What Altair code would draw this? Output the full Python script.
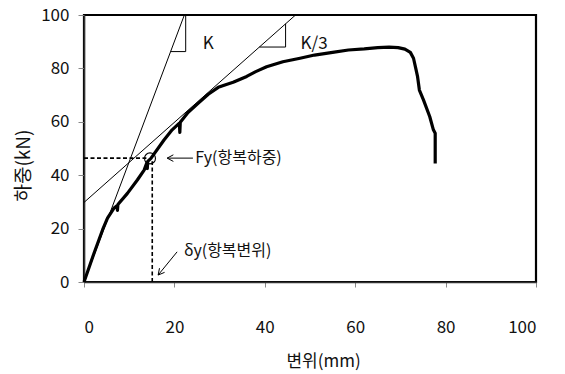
import altair as alt
import pandas as pd
import numpy as np

# ---- data ----
disp = [0, 2.2, 4.1, 5.2, 6.6, 7.3, 7.4, 7.5, 9.6, 11.8, 13.3, 13.9, 14.0, 14.1, 14.8,
        17.7, 19.5, 21.1, 21.2, 21.3, 23.0, 25.3, 27.5, 29.7, 31.5, 33.0, 36.0, 38.0,
        40.4, 44.0, 47.8, 51.0, 55.0, 58.5, 62.0, 65.0, 67.5, 69.5, 71.0, 72.2, 72.9,
        73.4, 73.8, 74.2, 75.1, 76.5, 77.3, 77.7, 77.7]
load = [0, 10.7, 19.5, 23.9, 27.6, 28.6, 26.8, 29.0, 33.2, 38.2, 41.9, 44.6, 42.5, 45.2, 46.3,
        53.2, 57.0, 59.5, 56.0, 59.8, 63.5, 67.0, 70.3, 72.9, 74.0, 74.8, 77.0, 78.8,
        80.6, 82.5, 83.8, 85.0, 86.0, 86.9, 87.3, 87.8, 88.0, 87.8, 87.2, 86.0, 83.8,
        80.0, 76.9, 71.9, 68.2, 61.9, 57.0, 55.7, 44.4]

k_line_x = [0, 22.2]
k_line_y = [0, 100]
k3_line_x = [0, 46.8]
k3_line_y = [29.8, 100]

tri_k_x = [19.2, 22.5, 22.5]
tri_k_y = [86.3, 86.3, 100]
tri_k3_x = [38.8, 44.6, 44.6]
tri_k3_y = [88.0, 88.0, 96.7]

yield_x = 15.1
yield_load = 46.4
circle_x = 14.6
circle_y = 46.3

fy_arrow_tail = (24.1, 46.4)
fy_arrow_tip = (18.4, 46.4)
dy_arrow_tail = (20.6, 11.3)
dy_arrow_tip = (16.4, 2.6)

labels_text = ["K", "K/3"]
labels_x = [27.5, 50.9]
labels_y = [89.0, 89.0]

fy_text = "Fy(항복하중)"
fy_text_pos = (24.6, 46.4)
dy_text = "δy(항복변위)"
dy_text_pos = (22.1, 11.6)

x_ticks = [0, 20, 40, 60, 80, 100]
y_ticks = [0, 20, 40, 60, 80, 100]

FONT = "Noto Sans CJK KR"
W, H = 452, 267
PXX, PXY = W / 100.0, H / 100.0

xs = alt.Scale(domain=[0, 100], nice=False, zero=True)
ys = alt.Scale(domain=[0, 100], nice=False, zero=True)

curve_df = pd.DataFrame({"x": disp, "y": load, "i": range(len(disp))})

def polyline(groups):
    rows = []
    for g, (px, py) in enumerate(groups):
        for j, (a, b) in enumerate(zip(px, py)):
            rows.append({"x": a, "y": b, "g": g, "i": j})
    return pd.DataFrame(rows)

def arrow(tail, tip, length=7.0, ang=28.0):
    dx = (tail[0] - tip[0]) * PXX
    dy = (tail[1] - tip[1]) * PXY
    n = np.hypot(dx, dy)
    ux, uy = dx / n, dy / n
    heads = []
    for s in (1, -1):
        a = np.radians(ang) * s
        rx = ux * np.cos(a) - uy * np.sin(a)
        ry = ux * np.sin(a) + uy * np.cos(a)
        heads.append((tip[0] + rx * length / PXX, tip[1] + ry * length / PXY))
    return [
        ([tail[0], tip[0]], [tail[1], tip[1]]),
        ([heads[0][0], tip[0], heads[1][0]], [heads[0][1], tip[1], heads[1][1]]),
    ]

thin_df = polyline([
    (k_line_x, k_line_y),
    (k3_line_x, k3_line_y),
    (tri_k_x, tri_k_y),
    (tri_k3_x, tri_k3_y),
] + arrow(fy_arrow_tail, fy_arrow_tip) + arrow(dy_arrow_tail, dy_arrow_tip))

dash_df = polyline([
    ([0, circle_x - 0.8], [yield_load, yield_load]),
    ([yield_x, yield_x], [0, yield_load - 1.2]),
])

X = alt.X("x:Q", scale=xs, title="변위(mm)",
          axis=alt.Axis(values=x_ticks, grid=False, tickSize=5, labelPadding=40,
                        labelBaseline="middle", labelFontSize=17, labelFont=FONT,
                        labelColor="#111", titleFont=FONT, titleFontSize=17,
                        titleFontWeight="normal", titleColor="#111",
                        titleX=239, titleY=79, titleBaseline="middle",
                        domainColor="#333", domainWidth=1.5, tickColor="#888"))
Y = alt.Y("y:Q", scale=ys, title="하중(kN)",
          axis=alt.Axis(values=y_ticks, grid=False, tickSize=6, labelPadding=9,
                        labelFontSize=17, labelFont=FONT, labelColor="#111",
                        titleFont=FONT, titleFontSize=19, titleFontWeight="normal",
                        titleColor="#111", titleX=-61, titleY=150,
                        titleBaseline="middle", titleAngle=270,
                        domainColor="#333", domainWidth=1.5, tickColor="#888"))

curve = alt.Chart(curve_df).mark_line(color="black", strokeWidth=3.2,
                                      strokeJoin="round").encode(
    x=X, y=Y, order="i:Q")

thin = alt.Chart(thin_df).mark_line(color="black", strokeWidth=1).encode(
    x=alt.X("x:Q", scale=xs), y=alt.Y("y:Q", scale=ys),
    detail="g:N", order="i:Q")

dash = alt.Chart(dash_df).mark_line(color="black", strokeWidth=1.6,
                                    strokeDash=[4, 2.5]).encode(
    x=alt.X("x:Q", scale=xs), y=alt.Y("y:Q", scale=ys),
    detail="g:N", order="i:Q")

circ = alt.Chart(pd.DataFrame({"x": [circle_x], "y": [circle_y]})).mark_point(
    shape="circle", size=120, filled=False, color="black", strokeWidth=1.1,
    opacity=1).encode(x=alt.X("x:Q", scale=xs), y=alt.Y("y:Q", scale=ys))

klab = alt.Chart(pd.DataFrame({"x": labels_x, "y": labels_y, "t": labels_text})).mark_text(
    font=FONT, fontSize=17, color="#111", align="center", baseline="middle").encode(
    x=alt.X("x:Q", scale=xs), y=alt.Y("y:Q", scale=ys), text="t:N")

ann = alt.Chart(pd.DataFrame({
    "x": [fy_text_pos[0], dy_text_pos[0]],
    "y": [fy_text_pos[1], dy_text_pos[1]],
    "t": [fy_text, dy_text]})).mark_text(
    font=FONT, fontSize=16, color="#111", align="left", baseline="middle").encode(
    x=alt.X("x:Q", scale=xs), y=alt.Y("y:Q", scale=ys), text="t:N")

chart = alt.layer(thin, dash, curve, circ, klab, ann).properties(
    width=W, height=H,
    autosize=alt.AutoSizeParams(type="none"),
    padding={"left": 84, "top": 15, "right": 29, "bottom": 92},
    background="white",
).configure_view(stroke="black", strokeWidth=2.2)

chart.save("out.html", embed_options={"renderer": "svg", "actions": False})
